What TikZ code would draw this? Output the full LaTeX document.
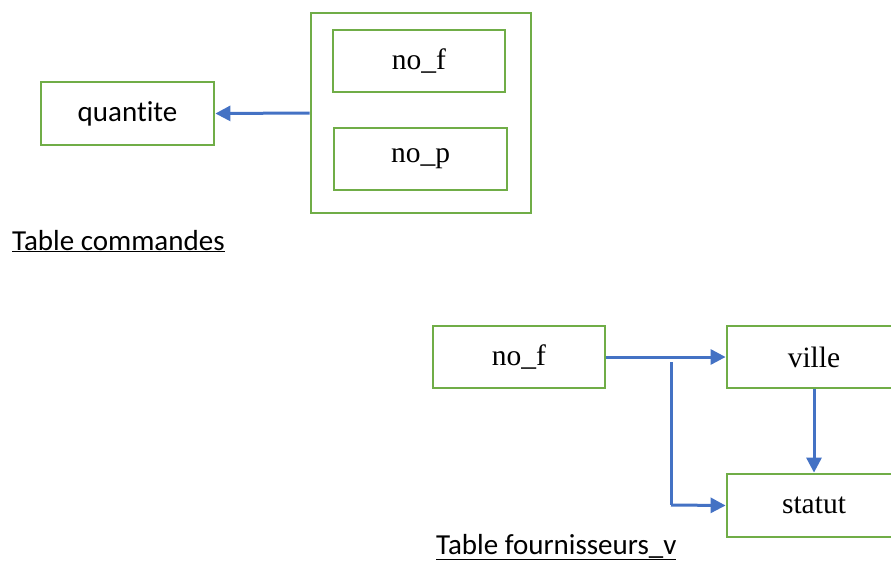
\documentclass[tikz,border=0pt]{standalone}
\usepackage{fontspec}
\setmainfont{Liberation Serif}
\newfontfamily\calib[Ligatures=NoCommon]{Carlito}
\usetikzlibrary{arrows.meta}
\definecolor{boxgreen}{HTML}{70AD47}
\definecolor{arrowblue}{HTML}{4472C4}
\tikzset{
  attr/.style={draw=boxgreen, line width=2.8pt, inner sep=0pt, align=center},
  conn/.style={draw=arrowblue, line width=3pt, -{Triangle[length=15pt,width=15pt]}},
  line/.style={draw=arrowblue, line width=3pt},
  serifl/.style={font=\fontsize{29.5}{32}\selectfont},
  sansl/.style={font=\calib\fontsize{29}{33}\selectfont}
}
\begin{document}
\begin{tikzpicture}[x=1pt,y=-1pt]
\clip (0,0) rectangle (891,560);
\useasboundingbox (0,0) rectangle (891,560);
% Table commandes
\node[attr, sansl, minimum width=173pt, minimum height=63pt] (q) at (127.5,113.5) {quantite};
\node[attr, minimum width=220pt, minimum height=200pt] (outer) at (421,113) {};
\node[attr, serifl, minimum width=172pt, minimum height=62pt] (nf1) at (419,61) {no\_f};
\node[attr, serifl, minimum width=173pt, minimum height=62pt] (np) at (420.5,159) {no\_p};
\draw[conn] (outer.west) -- (q.east);
\node[sansl, anchor=base west, inner sep=0pt] (cap1) at (12,250) {\underline{Table commandes}};
% Table fournisseurs_v
\node[attr, serifl, minimum width=172pt, minimum height=62pt] (nf2) at (519,357) {no\_f};
\node[attr, serifl, minimum width=174pt, minimum height=62pt] (ville) at (814,357) {ville};
\node[attr, serifl, minimum width=174pt, minimum height=63pt] (statut) at (814,505.5) {statut};
\draw[conn] (nf2.east) -- (ville.west);
\coordinate (br) at (671,362);
\draw[line] (br) -- (671,505);
\draw[conn] (671,505) -- (statut.west);
\draw[conn] (ville.south) -- (statut.north);
\node[sansl, anchor=base west, inner sep=0pt] (cap2) at (436,554) {\underline{Table fournisseurs\_v}};
\end{tikzpicture}
\end{document}
